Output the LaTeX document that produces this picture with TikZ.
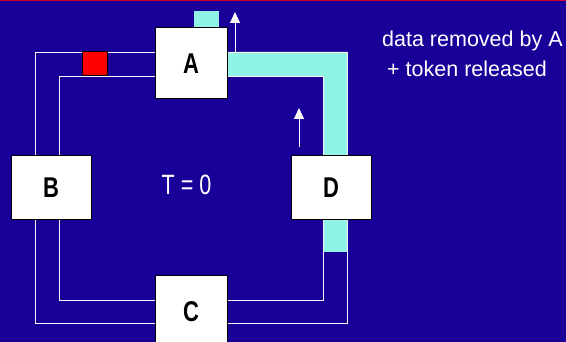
\documentclass[tikz,border=0pt]{standalone}
\usepackage{fontspec}
\setmainfont{Liberation Sans}
\usetikzlibrary{arrows.meta}

\definecolor{slideblue}{RGB}{26,0,153}
\definecolor{ringcyan}{RGB}{143,243,230}
\definecolor{slidered}{RGB}{204,0,51}

\tikzset{
  station/.style={draw=black, line width=1pt, fill=white, inner sep=0pt,
    font=\bfseries\fontsize{22}{22}\selectfont},
  ring/.style={draw=white!92!gray, line width=0.9pt},
  upflow/.style={white!95!gray, line width=0.9pt, -{Triangle[width=10pt,length=11pt]}},
  note/.style={white, inner sep=0pt, font=\fontsize{21.5}{21.5}\selectfont},
}

\begin{document}
\begin{tikzpicture}[x=1pt, y=-1pt]
    \useasboundingbox (0,0) rectangle (566,342);
    \clip (0,0) rectangle (566,342);
    \fill[slideblue] (0,0) rectangle (566,342);
    \fill[slidered] (0,0) rectangle (566,1.3);
    % frame that was just taken off the ring
    \fill[ringcyan] (227,52) -- (347,52) -- (347,252) -- (323,252) -- (323,76) -- (227,76) -- cycle;
    \fill[ringcyan] (194,11) rectangle (219,28);
    % the two ring lines
    \draw[ring] (35,52) rectangle (347,323);
    \draw[ring] (59,76) rectangle (323,300);
    % free token
    \draw[black, line width=1pt, fill=red] (82,52) rectangle (107,76);
    \coordinate (outA) at (235,52);
    \coordinate (tipA) at (235,12);
    \coordinate (outD) at (299,147);
    \coordinate (tipD) at (299,108);
    \draw[upflow] (outA) -- (tipA);
    \draw[upflow] (outD) -- (tipD);
    % stations
    \node[station, minimum width=72pt, minimum height=71pt] (A) at (191,63.5) {\scalebox{1}[1.3]{A}};
    \node[station, minimum width=80pt, minimum height=64pt] (B) at (51,188) {\scalebox{1}[1.3]{B}};
    \node[station, minimum width=72pt, minimum height=72pt] (C) at (191,312) {\scalebox{1}[1.3]{C}};
    \node[station, minimum width=80pt, minimum height=64pt] (D) at (331,188) {\scalebox{1}[1.3]{D}};
    \node[note] (clock) at (186.5,185) {\scalebox{1}[1.3]{T = 0}};
    \node[note, anchor=base west] (l1) at (382,47) {data removed by A};
    \node[note, anchor=base west] (l2) at (387,77) {+ token released};
\end{tikzpicture}
\end{document}
